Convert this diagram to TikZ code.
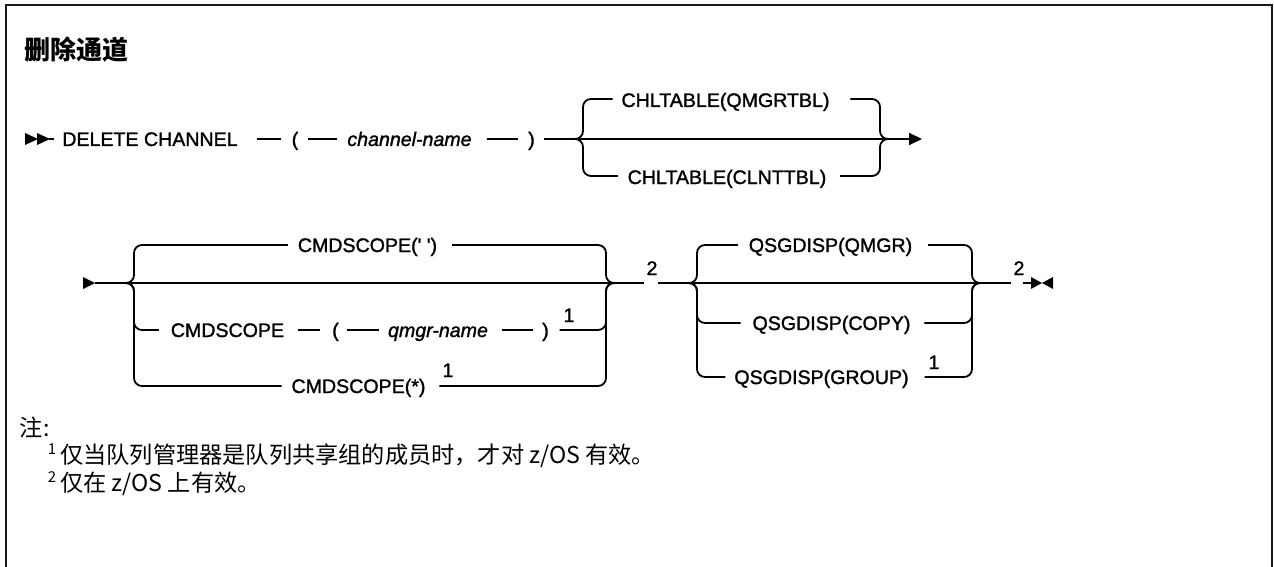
\documentclass[tikz,border=0pt]{standalone}
\usepackage{fontspec}
\newfontfamily\dia{Liberation Sans}[FakeBold=1.4]
\newfontfamily\cjk{Noto Sans CJK SC}
\usetikzlibrary{arrows.meta}
\begin{document}
\begin{tikzpicture}[x=1pt,y=-1pt,line width=1.8pt,
  kw/.style={font=\dia\fontsize{19.6pt}{23pt}\selectfont, inner sep=0pt, text height=14pt, text depth=0pt},
  var/.style={kw, font=\dia\itshape\fontsize{19.6pt}{23pt}\selectfont},
  br/.style={rounded corners=8pt},
  cjktext/.style={font=\cjk\fontsize{23.2pt}{27pt}\selectfont, inner sep=0pt, anchor=base west},
  tri/.style={fill=black, draw=none},
  endarrow/.style={-{Triangle[length=13pt,width=12pt]}}]
\useasboundingbox (0,0) rectangle (1274,567);
\fill[white] (0,0) rectangle (1274,567);
% frame
\draw[line width=2pt, black!90] (6,567) -- (6,5) -- (1272,5) -- (1272,567);

% title
\node[cjktext, font=\cjk\bfseries\fontsize{26pt}{30pt}\selectfont] (title) at (24,60) {删除通道};

% ---------- row 1 ----------
\coordinate (start1) at (25,139);
\fill[tri] (start1) -- ++(0,-6) -- ++(13,6) -- ++(-13,6) -- cycle;
\fill[tri] ([xshift=12pt]start1) -- ++(0,-6) -- ++(13,6) -- ++(-13,6) -- cycle;
\node[kw] (del) at (150,139) {DELETE CHANNEL};
\node[kw] (lp1) at (295,139) {(};
\node[var] (chn) at (409.5,139) {channel-name};
\node[kw] (rp1) at (531.5,139) {)};
\coordinate (jL1) at (575,139);
\coordinate (vL1) at (583,139);
\coordinate (vR1) at (880,139);
\coordinate (jR1) at (888,139);
\coordinate (end1) at (922,139);
\node[kw] (q1) at (725.5,100) {CHLTABLE(QMGRTBL)};
\node[kw] (c1) at (727,177) {CHLTABLE(CLNTTBL)};

\draw ([xshift=24pt]start1) -- ([xshift=-7pt]del.west);
\draw[shorten <=18pt, shorten >=10pt] (del.east) -- (lp1.west);
\draw[shorten <=9pt, shorten >=9pt] (lp1.east) -- (chn.west);
\draw[shorten <=14pt, shorten >=9pt] (chn.east) -- (rp1.west);
\draw[shorten <=8pt] (rp1.east) -- (jL1);
\draw (jL1) -- (jR1);
\draw[endarrow] (jR1) -- (end1);
\draw[br] (jL1) -- (vL1) |- ([xshift=-8pt,yshift=1pt]q1.west);
\draw[br] ([xshift=20pt,yshift=1pt]q1.east) -| (vR1) -- (jR1);
\draw[br] (jL1) -- (vL1) |- ([xshift=-9pt,yshift=1pt]c1.west);
\draw[br] ([xshift=13pt,yshift=1pt]c1.east) -| (vR1) -- (jR1);

% ---------- row 2 ----------
\coordinate (start2) at (83,283);
\fill[tri] (start2) -- ++(0,-6) -- ++(12,6) -- ++(-12,6) -- cycle;
\coordinate (jL2) at (126,283);
\coordinate (vL2) at (134,283);
\coordinate (vR2) at (606,283);
\coordinate (jR2) at (615,283);
\node[kw] (cs1) at (367.5,245) {CMDSCOPE(' ')};
\node[kw] (cs2) at (227.5,330) {CMDSCOPE};
\node[kw] (lp2) at (335.5,330) {(};
\node[var] (qm) at (438,330) {qmgr-name};
\node[kw] (rp2) at (545.5,330) {)};
\node[kw] (f1a) at (569,315) {1};
\node[kw] (cs3) at (358.5,386) {CMDSCOPE(*)};
\node[kw] (f1b) at (448,370) {1};
\node[kw] (n2a) at (652,268) {2};

\draw ([xshift=12pt]start2) -- (jL2);
\draw (jL2) -- (jR2);
\draw[br] (jL2) -- (vL2) |- ([xshift=-9pt]cs1.west);
\draw[br] ([xshift=14pt]cs1.east) -| (vR2) -- (jR2);
\draw[br] (jL2) -- (vL2) |- ([xshift=-11pt]cs2.west);
\draw[shorten <=13pt, shorten >=11pt] (cs2.east) -- (lp2.west);
\draw[shorten <=7pt, shorten >=8pt] (lp2.east) -- (qm.west);
\draw[shorten <=13pt, shorten >=8pt] (qm.east) -- (rp2.west);
\draw[br] ([xshift=10pt]rp2.east) -| (vR2) -- (jR2);
\draw[br] (jL2) -- (vL2) |- ([xshift=-9pt]cs3.west);
\draw[br] ([xshift=13pt]cs3.east) -| (vR2) -- (jR2);
\draw[shorten >=1.5pt] (jR2) -- (n2a.west |- jR2);

% QSGDISP block
\coordinate (jL3) at (688,283);
\coordinate (vL3) at (697,283);
\coordinate (vR3) at (972,283);
\coordinate (jR3) at (980,283);
\node[kw] (qs1) at (830.5,245) {QSGDISP(QMGR)};
\node[kw] (qs2) at (831.5,323) {QSGDISP(COPY)};
\node[kw] (qs3) at (821.5,377) {QSGDISP(GROUP)};
\node[kw] (f1c) at (934,362) {1};
\node[kw] (n2b) at (1019,268) {2};
\coordinate (fin) at (1042,283);

\draw (n2a.east |- jL3) -- (jL3);
\draw (jL3) -- (jR3);
\draw[br] (jL3) -- (vL3) |- ([xshift=-10pt]qs1.west);
\draw[br] ([xshift=15pt]qs1.east) -| (vR3) -- (jR3);
\draw[br] (jL3) -- (vL3) |- ([xshift=-11pt]qs2.west);
\draw[br] ([xshift=13pt]qs2.east) -| (vR3) -- (jR3);
\draw[br] (jL3) -- (vL3) |- ([xshift=-8pt]qs3.west);
\draw[br] ([xshift=15pt]qs3.east) -| (vR3) -- (jR3);
\draw[shorten >=1.5pt] (jR3) -- (n2b.west |- jR3);
\draw[shorten <=-2pt] (n2b.east |- fin) -- ([xshift=-11pt]fin);
\fill[tri] (fin) -- ++(-11,-6) -- ++(0,12) -- cycle;
\fill[tri] (fin) -- ++(11,-6) -- ++(0,12) -- cycle;

% ---------- notes ----------
\node[cjktext] (note) at (19,436.5) {注:};
\node[cjktext] (fn1) at (47,463.5) {\raisebox{0.4em}{\fontsize{15pt}{15pt}\selectfont 1}\hspace{4pt}仅当队列管理器是队列共享组的成员时，才对 z/OS 有效。};
\node[cjktext] (fn2) at (47,491.5) {\raisebox{0.4em}{\fontsize{15pt}{15pt}\selectfont 2}\hspace{4pt}仅在 z/OS 上有效。};
\end{tikzpicture}
\end{document}
